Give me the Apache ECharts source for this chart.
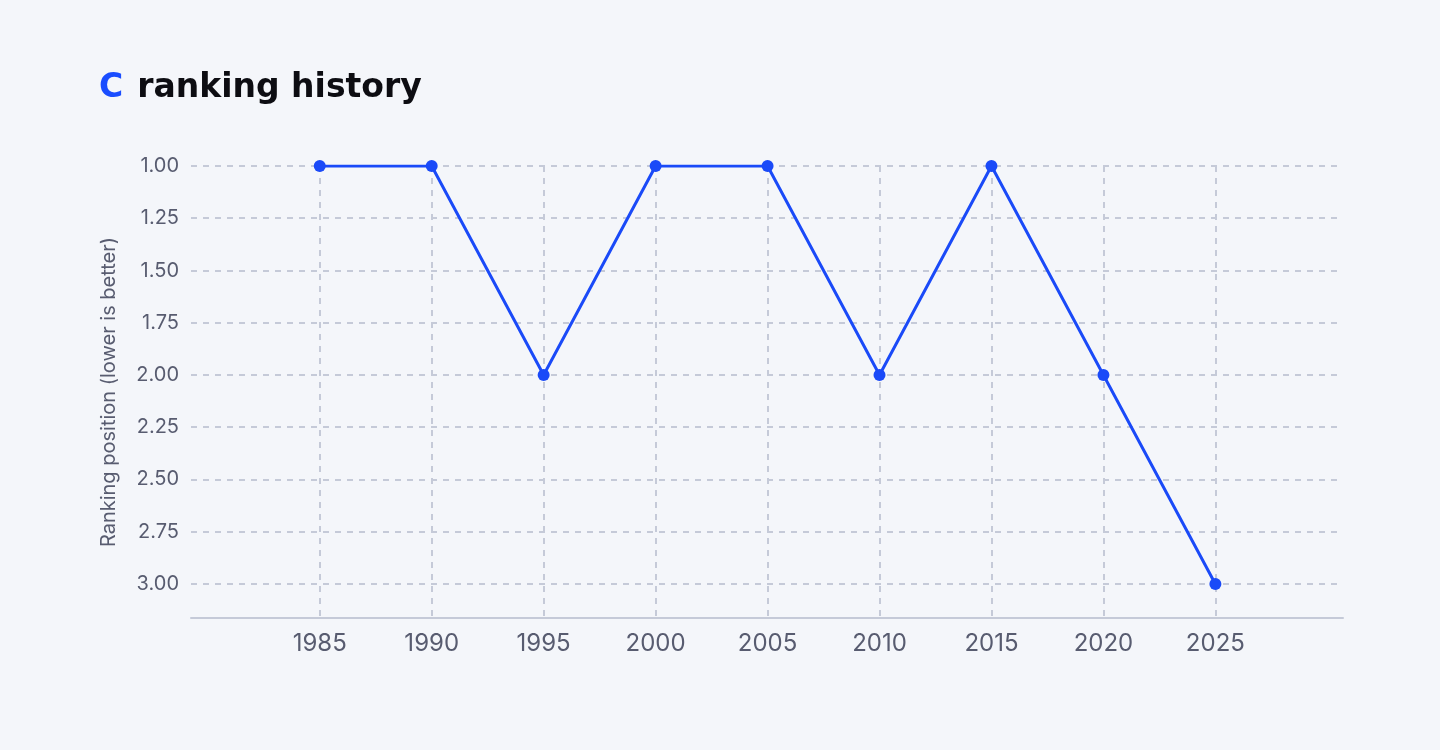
<!DOCTYPE html>
<html><head><meta charset="utf-8">
<script src="https://cdn.jsdelivr.net/npm/echarts@6/dist/echarts.min.js"></script>
<style>html,body{margin:0;padding:0;background:#f4f6fa;}#c{width:1440px;height:750px;}</style>
</head><body><div id="c"></div>
<script>
const years = [1985, 1990, 1995, 2000, 2005, 2010, 2015, 2020, 2025];
const ranks = [1, 1, 2, 1, 1, 2, 1, 2, 3];
const yTicks = [1, 1.25, 1.5, 1.75, 2, 2.25, 2.5, 2.75, 3];

const chart = echarts.init(document.getElementById('c'), null, {renderer: 'canvas'});
const gridColor = '#c5cad8';
const labelColor = '#585c70';
chart.setOption({
  backgroundColor: '#f4f6fa',
  animation: false,
  title: {
    text: '{c|C}{t|ranking history}',
    left: 94, top: 67,
    textStyle: {
      rich: {
        c: {color: '#1a4dff', fontSize: 33, fontWeight: 700, fontFamily: 'DejaVu Sans', padding: [0, 14, 0, 0]},
        t: {color: '#0d0d12', fontSize: 33, fontWeight: 700, fontFamily: 'DejaVu Sans'}
      }
    }
  },
  grid: {left: 191, right: 97, top: 166, bottom: 132, containLabel: false},
  xAxis: {
    type: 'value',
    min: 1979.25, max: 2030.7,
    axisLine: {show: true, lineStyle: {color: gridColor, width: 2}},
    axisTick: {show: false, customValues: years},
    axisLabel: {customValues: years, color: labelColor, fontSize: 24, fontFamily: 'Inter', margin: 14,
      formatter: v => String(Math.round(v))},
    splitLine: {show: true, lineStyle: {color: gridColor, type: [6, 6], width: 2}}
  },
  yAxis: {
    type: 'value',
    inverse: true,
    min: 1, max: 3.163,
    axisLine: {show: false},
    axisTick: {show: false, customValues: yTicks},
    axisLabel: {customValues: yTicks, color: labelColor, fontSize: 20, fontFamily: 'Inter', margin: 12,
      formatter: v => v.toFixed(2)},
    splitLine: {show: true, lineStyle: {color: gridColor, type: [6, 6], width: 2}},
    name: 'Ranking position (lower is better)',
    nameLocation: 'middle',
    nameGap: 72,
    nameTextStyle: {color: labelColor, fontSize: 20, fontFamily: 'Inter'}
  },
  series: [{
    type: 'line',
    data: years.map((y, i) => [y, ranks[i]]),
    symbol: 'circle', symbolSize: 12,
    lineStyle: {color: '#1a4af8', width: 3},
    itemStyle: {color: '#1a4af8'}
  }]
});
</script></body></html>
